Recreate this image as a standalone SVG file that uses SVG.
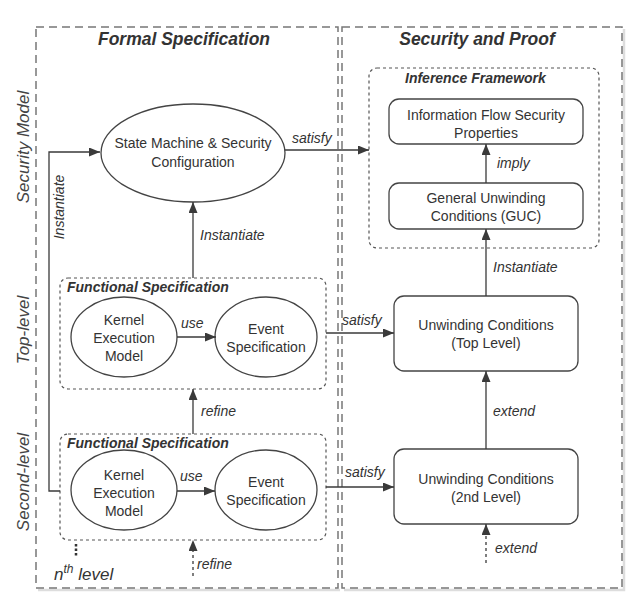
<svg xmlns="http://www.w3.org/2000/svg" width="644" height="612" viewBox="0 0 644 612">
<defs>
<marker id="ah" viewBox="0 0 11 9" refX="11" refY="4.5" markerWidth="11" markerHeight="9" markerUnits="userSpaceOnUse" orient="auto">
<path d="M0,0 L11,4.5 L0,9 Z" fill="#3a3a3a"/>
</marker>
</defs>
<style>
text{font-family:"Liberation Sans",Arial,sans-serif;fill:#333}
.t{font-size:14px;text-anchor:middle}
.lb{font-size:14px;font-style:italic}
.hd{font-size:17.5px;font-weight:bold;font-style:italic;text-anchor:middle}
.sh{font-size:14px;font-weight:bold;font-style:italic}
.row{font-size:17px;font-style:italic;text-anchor:middle;fill:#444}
.outer{fill:none;stroke:#777;stroke-width:1.5;stroke-dasharray:8,5}
.shadow{fill:none;stroke:#ddd;stroke-width:2.5}
.grp{fill:none;stroke:#555;stroke-width:1.2;stroke-dasharray:3,3}
.node{fill:#fff;stroke:#444;stroke-width:1.3}
.ln{fill:none;stroke:#3a3a3a;stroke-width:1.3}
.dl{fill:none;stroke:#3a3a3a;stroke-width:1.3;stroke-dasharray:3,3}
</style>
<rect width="644" height="612" fill="#fff"/>

<g id="formal-spec">
<path class="shadow" d="M38,590 H340"/>
<rect class="outer" x="36" y="27" width="302" height="561"/>
<text class="hd" x="184" y="45">Formal Specification</text>
</g>
<g id="security-proof">
<path class="shadow" d="M344,590 H624 V29"/>
<rect class="outer" x="342" y="27" width="280" height="561"/>
<text class="hd" x="477" y="45">Security and Proof</text>
</g>

<g id="row-labels">
<text class="row" transform="translate(29,147) rotate(-90)">Security Model</text>
<text class="row" transform="translate(29,330) rotate(-90)">Top-level</text>
<text class="row" transform="translate(29,482) rotate(-90)">Second-level</text>
</g>

<g id="inference-framework">
<rect class="grp" x="369" y="68" width="230" height="180" rx="8"/>
<text class="sh" x="405" y="83">Inference Framework</text>
</g>

<g id="func-spec-top">
<rect class="grp" x="60" y="278" width="266" height="111" rx="8"/>
<text class="sh" x="67" y="292">Functional Specification</text>
</g>
<g id="func-spec-second">
<rect class="grp" x="60" y="434" width="266" height="106" rx="8"/>
<text class="sh" x="67" y="448">Functional Specification</text>
</g>

<g id="state-machine">
<ellipse class="node" cx="193" cy="153" rx="92" ry="49"/>
<text class="t" x="193" y="148">State Machine &amp; Security</text>
<text class="t" x="193" y="167">Configuration</text>
</g>

<g id="kernel-top">
<ellipse class="node" cx="124" cy="337" rx="53" ry="40"/>
<text class="t" x="124" y="325">Kernel</text>
<text class="t" x="124" y="343">Execution</text>
<text class="t" x="124" y="361">Model</text>
</g>
<g id="event-top">
<ellipse class="node" cx="266" cy="337" rx="51" ry="40"/>
<text class="t" x="266" y="334">Event</text>
<text class="t" x="266" y="352">Specification</text>
</g>
<g id="kernel-second">
<ellipse class="node" cx="124" cy="490" rx="53" ry="40"/>
<text class="t" x="124" y="480">Kernel</text>
<text class="t" x="124" y="498">Execution</text>
<text class="t" x="124" y="516">Model</text>
</g>
<g id="event-second">
<ellipse class="node" cx="266" cy="490" rx="51" ry="40"/>
<text class="t" x="266" y="487">Event</text>
<text class="t" x="266" y="505">Specification</text>
</g>

<g id="ifsp">
<rect class="node" x="389" y="99" width="194" height="45" rx="10"/>
<text class="t" x="486" y="120">Information Flow Security</text>
<text class="t" x="486" y="138">Properties</text>
</g>
<g id="guc">
<rect class="node" x="389" y="183" width="194" height="46" rx="10"/>
<text class="t" x="486" y="203">General Unwinding</text>
<text class="t" x="486" y="221">Conditions (GUC)</text>
</g>
<g id="uc-top">
<rect class="node" x="394" y="296" width="184" height="75" rx="10"/>
<text class="t" x="486" y="330">Unwinding Conditions</text>
<text class="t" x="486" y="348">(Top Level)</text>
</g>
<g id="uc-second">
<rect class="node" x="394" y="449" width="184" height="75" rx="10"/>
<text class="t" x="486" y="484">Unwinding Conditions</text>
<text class="t" x="486" y="502">(2nd Level)</text>
</g>

<g id="nth-level">
<path d="M76,544 V557" fill="none" stroke="#333" stroke-width="2.5" stroke-dasharray="2.5,2"/>
<text x="54" y="580" font-size="17" font-style="italic" fill="#333">n<tspan font-size="12" dy="-7">th</tspan><tspan dy="7"> level</tspan></text>
</g>

<g id="connectors">
<path class="ln" d="M285,150 H369" marker-end="url(#ah)"/>
<text class="lb" x="292" y="143">satisfy</text>
<path class="ln" d="M486,183 V144" marker-end="url(#ah)"/>
<text class="lb" x="497" y="168">imply</text>
<path class="ln" d="M486,296 V229" marker-end="url(#ah)"/>
<text class="lb" x="493" y="272">Instantiate</text>
<path class="ln" d="M326,333 H394" marker-end="url(#ah)"/>
<text class="lb" x="342" y="325">satisfy</text>
<path class="ln" d="M486,449 V371" marker-end="url(#ah)"/>
<text class="lb" x="493" y="416">extend</text>
<path class="ln" d="M326,487 H394" marker-end="url(#ah)"/>
<text class="lb" x="345" y="477">satisfy</text>
<path class="dl" d="M486,563 V524" marker-end="url(#ah)"/>
<text class="lb" x="495" y="553">extend</text>
<path class="ln" d="M193,278 V202" marker-end="url(#ah)"/>
<text class="lb" x="200" y="240">Instantiate</text>
<path class="ln" d="M177,337 H216" marker-end="url(#ah)"/>
<text class="lb" x="181" y="328">use</text>
<path class="ln" d="M177,491 H215" marker-end="url(#ah)"/>
<text class="lb" x="180" y="481">use</text>
<path class="ln" d="M193,434 V389" marker-end="url(#ah)"/>
<text class="lb" x="201" y="416">refine</text>
<path class="dl" d="M193,576 V540" marker-end="url(#ah)"/>
<text class="lb" x="197" y="569">refine</text>
<path class="ln" d="M60,491 H49 V152 H100" marker-end="url(#ah)"/>
<text class="lb" transform="translate(64,207) rotate(-90)" text-anchor="middle">Instantiate</text>
</g>
</svg>
